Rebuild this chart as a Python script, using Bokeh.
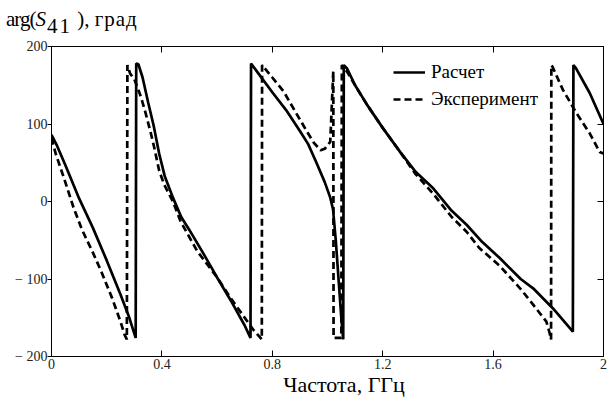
from bokeh.plotting import figure
from bokeh.models import (Range1d, LinearAxis, FixedTicker, Legend, LegendItem, Div)
from bokeh.layouts import column
from bokeh.embed import file_html
from bokeh.resources import INLINE

# ---- data ----
calc_x = [0.0, 0.02, 0.05, 0.10, 0.15, 0.20, 0.25, 0.28, 0.305,
          0.307, 0.315, 0.33, 0.35, 0.37, 0.39, 0.41, 0.44, 0.47, 0.50, 0.55, 0.60, 0.65, 0.70, 0.721,
          0.723, 0.75, 0.80, 0.85, 0.90, 0.93, 0.96, 0.99, 1.01, 1.02, 1.03, 1.04, 1.05, 1.057,
          1.059, 1.07, 1.10, 1.143, 1.20, 1.263, 1.32, 1.383, 1.45, 1.504, 1.56, 1.624, 1.70, 1.745, 1.817, 1.889,
          1.891, 1.90, 1.95, 2.0]
calc_y = [86, 72, 47, 4, -34, -76, -120, -148, -176,
          178, 177, 160, 128, 98, 62, 33, 5, -20, -37, -67, -98, -128, -160, -176,
          178, 165, 141, 118, 91, 74, 50, 25, 5, -10, -50, -100, -150, -178,
          176, 172, 150, 125, 95, 64, 38, 17, -12, -30, -52, -73, -100, -112, -138, -168,
          176, 172, 140, 100]

exp_x = [0.0, 0.015, 0.05, 0.08, 0.11, 0.15, 0.18, 0.22, 0.25, 0.265, 0.273,
         0.275, 0.285, 0.30, 0.324, 0.341, 0.36, 0.372, 0.39, 0.408, 0.44, 0.468, 0.528, 0.60, 0.65, 0.70, 0.73, 0.762,
         0.763, 0.80, 0.841, 0.88, 0.926, 0.95, 0.975, 0.99, 1.01, 1.021,
         1.022, 1.05,
         1.052, 1.07, 1.10, 1.143, 1.20, 1.263, 1.32, 1.383, 1.45, 1.504, 1.55, 1.624, 1.70, 1.745, 1.793, 1.805, 1.81,
         1.811, 1.815, 1.853, 1.902, 1.95, 1.986, 2.0]
exp_y = [82, 62, 25, -8, -36, -66, -90, -125, -155, -172, -178,
         176, 165, 158, 135, 114, 88, 70, 40, 22, 0, -26, -64, -98, -125, -150, -165, -178,
         176, 160, 142, 118, 90, 76, 66, 68, 77, 168,
         -176, -176,
         176, 168, 150, 125, 95, 64, 35, 10, -20, -39, -60, -83, -113, -133, -155, -170, -178,
         176, 174, 144, 114, 88, 64, 62]

x_ticks = [0, 0.4, 0.8, 1.2, 1.6, 2]
y_ticks = [-200, -100, 0, 100, 200]
y_tick_labels = {-200: "\u2212 200", -100: "\u2212 100", 0: "0", 100: "100", 200: "200"}
x_tick_labels = {0: "0", 0.4: "0.4", 0.8: "0.8", 1.2: "1.2", 1.6: "1.6", 2: "2"}
series_names = ["Расчет", "Эксперимент"]
x_title = "Частота, ГГц"
y_title_parts = ("arg(", "S", "41", " ), ", "град")

SERIF = "Liberation Serif"

# ---- y-axis title above the plot, as HTML text ----
title_html = (
    '<div style="position:absolute; left:6px; top:7px; white-space:nowrap; '
    'font-family:\'Liberation Serif\', serif; font-size:21px; line-height:24px; color:black;">'
    f'<span style="letter-spacing:-1px;">{y_title_parts[0]}</span><i>{y_title_parts[1]}</i>'
    f'<span style="position:relative; top:7px; margin-left:1px; letter-spacing:2px;">{y_title_parts[2]}</span>'
    f'{y_title_parts[3]}<span style="letter-spacing:1px;">{y_title_parts[4]}</span></div>'
)
title_div = Div(text=title_html, width=611, height=36, margin=0,
                styles={"position": "relative"})

p = figure(width=611, height=363, output_backend="svg", toolbar_location=None,
           x_range=Range1d(0, 2), y_range=Range1d(-200, 200),
           min_border_left=51, min_border_right=8, min_border_top=10, min_border_bottom=43,
           x_axis_location=None, y_axis_location=None, margin=0)
p.grid.visible = False
p.outline_line_color = "black"
p.outline_line_width = 1
p.background_fill_color = "white"
p.border_fill_color = "white"

r1 = p.line(calc_x, calc_y, line_color="black", line_width=2.7)
r2 = p.line(exp_x, exp_y, line_color="black", line_width=2.7, line_dash="7 4")

def mk_axis(ticks, overrides, show_labels, tick_in, tick_out):
    ax = LinearAxis(ticker=FixedTicker(ticks=ticks))
    ax.axis_line_color = "black"
    ax.axis_line_width = 1
    ax.major_tick_line_color = "black"
    ax.major_tick_in = tick_in
    ax.major_tick_out = tick_out
    ax.minor_tick_line_color = None
    ax.major_label_text_font = SERIF
    ax.major_label_text_font_size = "14px"
    if show_labels:
        ax.major_label_text_color = "#222222"
        ax.major_label_standoff = 2
        ax.major_label_overrides = overrides
    else:
        ax.major_label_text_color = None
        ax.major_label_standoff = 0
    return ax

bottom = mk_axis(x_ticks, x_tick_labels, True, 6, 0)
# leading no-break spaces shift the centred title to where the reference has it
bottom.axis_label = "\u00a0" * 6 + x_title
bottom.axis_label_text_font = SERIF
bottom.axis_label_text_font_style = "normal"
bottom.axis_label_text_font_size = "22px"
bottom.axis_label_text_color = "black"
bottom.axis_label_standoff = 0
p.add_layout(bottom, "below")

left = mk_axis(y_ticks, y_tick_labels, True, 0, 4)
left.major_label_standoff = 0
p.add_layout(left, "left")

top = mk_axis(x_ticks, {}, False, 6, 0)
p.add_layout(top, "above")
right = mk_axis(y_ticks, {}, False, 6, 0)
p.add_layout(right, "right")

legend = Legend(items=[LegendItem(label=series_names[0], renderers=[r1]),
                       LegendItem(label=series_names[1], renderers=[r2])],
                location=(342, 246))
legend.border_line_color = None
legend.background_fill_alpha = 0
legend.padding = 0
legend.margin = 0
legend.spacing = 5
legend.glyph_width = 32
legend.glyph_height = 20
legend.label_height = 20
legend.label_standoff = 6
legend.label_text_font = SERIF
legend.label_text_font_size = "19px"
legend.label_text_color = "black"
p.add_layout(legend, "center")

layout = column(title_div, p, spacing=0, margin=0)

html = file_html(layout, INLINE)
open("out.html", "w").write(html)
